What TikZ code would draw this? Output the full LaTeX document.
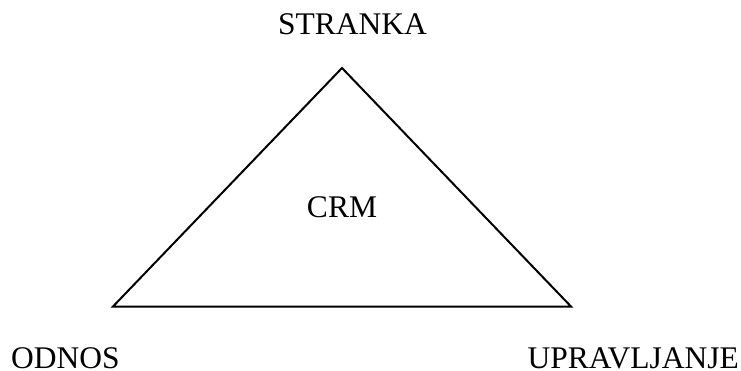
\documentclass[tikz,border=0pt]{standalone}
\usepackage{fontspec}
\setmainfont{Liberation Serif}
\begin{document}
\begin{tikzpicture}[x=1pt,y=-1pt,
  lbl/.style={inner sep=0pt,font=\fontsize{31.5}{36}\selectfont},
  edge/.style={line width=2pt,line join=miter}]
\useasboundingbox (0,0) rectangle (741,371);
\coordinate (top) at (342,68);
\coordinate (bl) at (113,306.5);
\coordinate (br) at (571,306.5);
\draw[edge] (top) -- (bl) -- (br) -- cycle;
\node[lbl,anchor=base] (stranka) at (352.5,35) {STRANKA};
\node[lbl,anchor=base] (crm) at (342,218) {CRM};
\node[lbl,anchor=base west] (odnos) at (11,368) {ODNOS};
\node[lbl,anchor=base east] (upr) at (739,368) {UPRAVLJANJE};
\end{tikzpicture}
\end{document}
